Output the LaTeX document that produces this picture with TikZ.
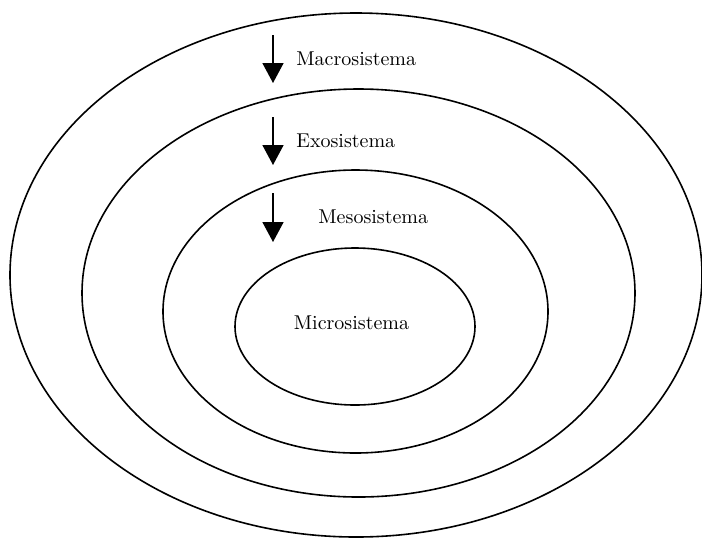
\documentclass[tikz,border=0pt]{standalone}
\usetikzlibrary{arrows.meta}

\tikzset{
    ring/.style={line width=0.8pt},
    levelarrow/.style={line width=0.8pt, -{Triangle[width=10.5pt, length=10pt]}},
    levellabel/.style={anchor=base west, inner sep=0pt, font=\normalsize}
}

\begin{document}
\begin{tikzpicture}[x=0.5pt, y=-0.5pt]
    \useasboundingbox (0,0) rectangle (702,538);

    % Macrosistema
    \draw[ring] (356,275) ellipse [x radius=346, y radius=262];
    % Exosistema
    \draw[ring] (358.5,293) ellipse [x radius=276.5, y radius=204];
    % Mesosistema
    \draw[ring] (355.5,311.5) ellipse [x radius=192.5, y radius=141.5];
    % Microsistema
    \draw[ring] (355,326.5) ellipse [x radius=120, y radius=78.5];

    % Etichette
    \node[levellabel] (macro) at (296,65) {Macrosistema};
    \node[levellabel] (exo) at (296,147) {Exosistema};
    \node[levellabel] (meso) at (318,223) {Mesosistema};
    \node[anchor=base, inner sep=0pt] (micro) at (351.5,329) {Microsistema};

    % Frecce
    \coordinate (macroA) at (273,35);
    \coordinate (macroB) at (273,83);
    \coordinate (exoA) at (273,117);
    \coordinate (exoB) at (273,165);
    \coordinate (mesoA) at (273,193);
    \coordinate (mesoB) at (273,242);
    \draw[levelarrow] (macroA) -- (macroB);
    \draw[levelarrow] (exoA) -- (exoB);
    \draw[levelarrow] (mesoA) -- (mesoB);
\end{tikzpicture}
\end{document}
